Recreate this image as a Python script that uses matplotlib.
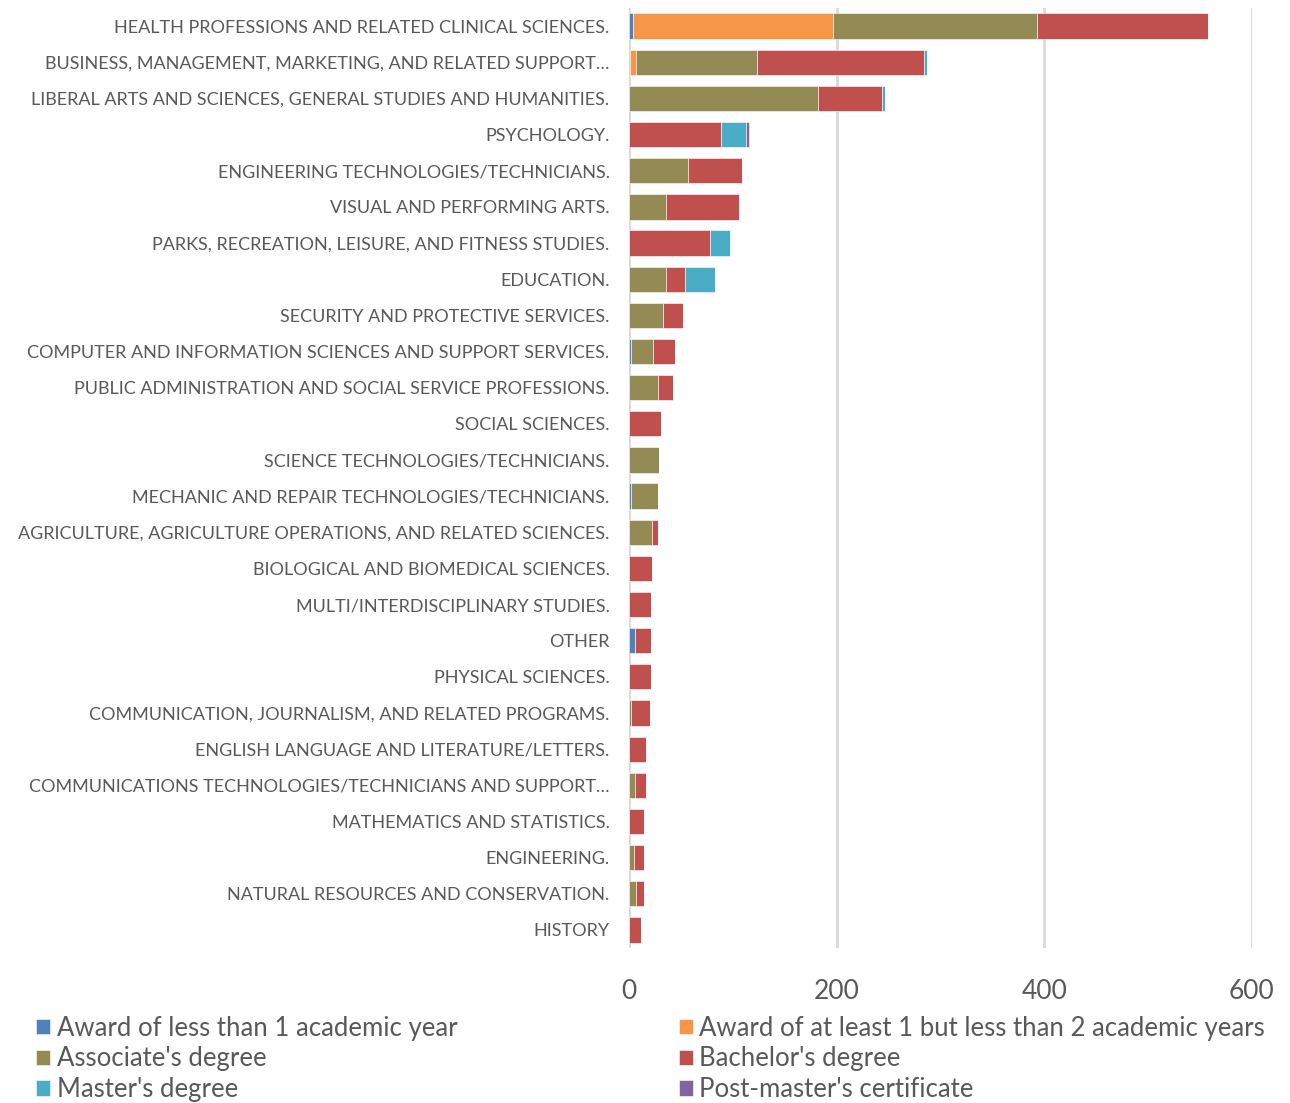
import matplotlib
matplotlib.use("Agg")
import matplotlib.pyplot as plt
import numpy as np

plt.rcParams["font.family"] = ["Lato", "DejaVu Sans"]

programs = [
    "HEALTH PROFESSIONS AND RELATED CLINICAL SCIENCES.",
    "BUSINESS, MANAGEMENT, MARKETING, AND RELATED SUPPORT…",
    "LIBERAL ARTS AND SCIENCES, GENERAL STUDIES AND HUMANITIES.",
    "PSYCHOLOGY.",
    "ENGINEERING TECHNOLOGIES/TECHNICIANS.",
    "VISUAL AND PERFORMING ARTS.",
    "PARKS, RECREATION, LEISURE, AND FITNESS STUDIES.",
    "EDUCATION.",
    "SECURITY AND PROTECTIVE SERVICES.",
    "COMPUTER AND INFORMATION SCIENCES AND SUPPORT SERVICES.",
    "PUBLIC ADMINISTRATION AND SOCIAL SERVICE PROFESSIONS.",
    "SOCIAL SCIENCES.",
    "SCIENCE TECHNOLOGIES/TECHNICIANS.",
    "MECHANIC AND REPAIR TECHNOLOGIES/TECHNICIANS.",
    "AGRICULTURE, AGRICULTURE OPERATIONS, AND RELATED SCIENCES.",
    "BIOLOGICAL AND BIOMEDICAL SCIENCES.",
    "MULTI/INTERDISCIPLINARY STUDIES.",
    "OTHER",
    "PHYSICAL SCIENCES.",
    "COMMUNICATION, JOURNALISM, AND RELATED PROGRAMS.",
    "ENGLISH LANGUAGE AND LITERATURE/LETTERS.",
    "COMMUNICATIONS TECHNOLOGIES/TECHNICIANS AND SUPPORT…",
    "MATHEMATICS AND STATISTICS.",
    "ENGINEERING.",
    "NATURAL RESOURCES AND CONSERVATION.",
    "HISTORY",
]

award_lt1 = [4, 1, 0, 0, 0, 0, 0, 0, 0, 1.5, 0, 0, 0, 1.5, 0, 0, 0, 5.5, 0, 0, 0, 0, 0, 0, 0, 0]
award_1to2 = [192, 6, 0, 0, 0, 0, 0, 0, 0, 0, 0, 0, 0, 0, 0, 0, 0, 0, 0, 0, 0, 0, 0, 0, 0, 0]
associate = [197, 116, 182, 0, 57, 36, 0, 36, 33, 22, 28, 0, 29, 26, 22, 0, 0, 0, 0, 1.5, 0, 5.5, 0, 4.5, 6.5, 0]
bachelor = [165, 161, 62, 89, 52, 70, 78, 18, 19, 21, 14, 31, 0, 0, 5.5, 22.5, 21.5, 16, 21, 19, 16.5, 11, 14.5, 9.5, 8, 11.5]
master = [0, 3, 3, 24, 0, 1, 19, 29, 0, 0, 0, 0, 0, 0, 0, 0, 0, 0, 0, 0, 0, 0, 0, 0.5, 0, 0]
post_master = [0, 0, 0, 2.5, 0, 0, 0, 0, 0, 0, 0, 0, 0, 0, 0, 0, 0, 0, 0, 0, 0, 0, 0, 0, 0, 0]

series = [
    ("Award of less than 1 academic year", award_lt1, "#4F81BD"),
    ("Award of at least 1 but less than 2 academic years", award_1to2, "#F79646"),
    ("Associate's degree", associate, "#948A54"),
    ("Bachelor's degree", bachelor, "#C0504D"),
    ("Master's degree", master, "#4BACC6"),
    ("Post-master's certificate", post_master, "#8064A2"),
]

text_color = "#595959"

fig = plt.figure(figsize=(12.9, 11.03), dpi=100)
ax = fig.add_axes([629 / 1290, 1 - 948 / 1103, 623 / 1290, 940 / 1103])

y = np.arange(len(programs))
left = np.zeros(len(programs))
handles = []
for name, vals, color in series:
    vals = np.array(vals, dtype=float)
    h = ax.barh(y, vals, left=left, height=0.7, color=color,
                edgecolor="white", linewidth=0.4, label=name, zorder=3)
    handles.append(h)
    left += vals

ax.set_xlim(0, 600)
ax.set_ylim(len(programs) - 0.5, -0.5)
ax.set_xticks([0, 200, 400, 600])
ax.set_yticks(y)
ax.set_yticklabels(programs, fontsize=13, color=text_color)
ax.tick_params(axis="x", labelsize=19, colors=text_color, length=0, pad=22)
ax.tick_params(axis="y", length=0, pad=14)
ax.grid(axis="x", color="#D9D9D9", linewidth=2, zorder=0)
for s in ax.spines.values():
    s.set_visible(False)

# row-wise order for a 2-column legend
order = [0, 2, 4, 1, 3, 5]
leg = fig.legend([handles[i] for i in order], [series[i][0] for i in order],
                 ncol=2, loc="lower left", mode="expand",
                 bbox_to_anchor=(36 / 1290, 1 / 1103, 1229 / 1290, 90 / 1103),
                 frameon=False, fontsize=18.5, handlelength=0.55, handleheight=0.55,
                 handletextpad=0.25, labelspacing=0.22, borderaxespad=0.0,
                 borderpad=0.0)
for t in leg.get_texts():
    t.set_color(text_color)

fig.savefig("out.png", dpi=100)
